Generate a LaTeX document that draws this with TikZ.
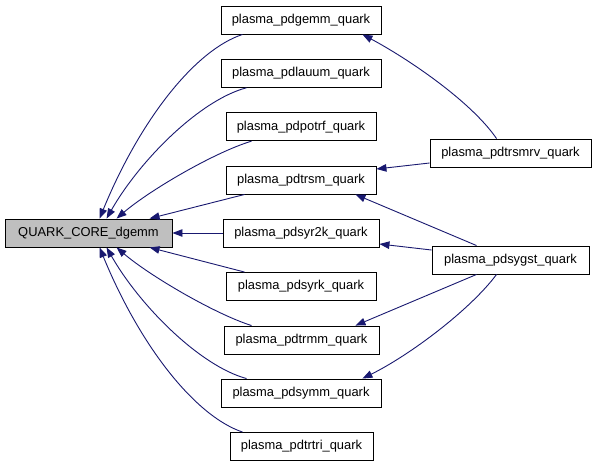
\documentclass[tikz,border=0pt]{standalone}
\usepackage{fontspec}
\setmainfont{Liberation Sans}
\usetikzlibrary{arrows.meta}
\definecolor{edgeblue}{RGB}{25,25,112}
\definecolor{boxgray}{RGB}{191,191,191}
\begin{document}
\begin{tikzpicture}[x=1pt,y=-1pt,
  fn/.style={draw=black,line width=0.9pt,fill=white,inner sep=0pt,minimum height=28pt,
    font=\fontsize{12.9pt}{14pt}\selectfont},
  edge/.style={draw=edgeblue,line width=0.9pt,
    -{Triangle[length=10pt,width=7.5pt,fill=edgeblue]}}]
\useasboundingbox[fill=white] (0,0) rectangle (597,467);
\node[fn,fill=boxgray,minimum width=167pt] (dgemm) at (88.5,233) {QUARK\_CORE\_dgemm};
\node[fn,minimum width=160pt] (pdgemm) at (301,20) {plasma\_pdgemm\_quark};
\node[fn,minimum width=160pt] (pdlauum) at (301,73.3) {plasma\_pdlauum\_quark};
\node[fn,minimum width=150pt] (pdpotrf) at (301,126.7) {plasma\_pdpotrf\_quark};
\node[fn,minimum width=150pt] (pdtrsm) at (301,180) {plasma\_pdtrsm\_quark};
\node[fn,minimum width=156pt] (pdsyr2k) at (301,233) {plasma\_pdsyr2k\_quark};
\node[fn,minimum width=150pt] (pdsyrk) at (301,286.5) {plasma\_pdsyrk\_quark};
\node[fn,minimum width=155pt] (pdtrmm) at (301.5,340) {plasma\_pdtrmm\_quark};
\node[fn,minimum width=160pt] (pdsymm) at (301,393) {plasma\_pdsymm\_quark};
\node[fn,minimum width=143pt] (pdtrtri) at (301.5,446.5) {plasma\_pdtrtri\_quark};
\node[fn,minimum width=161pt] (pdtrsmrv) at (510.5,153) {plasma\_pdtrsmrv\_quark};
\node[fn,minimum width=157pt] (pdsygst) at (510.5,260) {plasma\_pdsygst\_quark};
% edges into QUARK_CORE_dgemm
\draw[edge] ([xshift=22pt]pdgemm.south west) .. controls (195,50) and (140,120) .. ([xshift=95pt]dgemm.north west);
\draw[edge] ([xshift=26pt]pdlauum.south west) .. controls (200,100) and (140,160) .. ([xshift=102pt]dgemm.north west);
\draw[edge] ([xshift=26pt]pdpotrf.south west) .. controls (215,152) and (150,190) .. ([xshift=112pt]dgemm.north west);
\draw[edge] ([xshift=19pt]pdtrsm.south west) -- ([xshift=145pt]dgemm.north west);
\draw[edge] (pdsyr2k.west) -- (dgemm.east);
\draw[edge] ([xshift=19pt]pdsyrk.north west) -- ([xshift=145pt]dgemm.south west);
\draw[edge] ([xshift=28pt]pdtrmm.north west) .. controls (215,314) and (150,276) .. ([xshift=112pt]dgemm.south west);
\draw[edge] ([xshift=26pt]pdsymm.north west) .. controls (200,366) and (140,306) .. ([xshift=102pt]dgemm.south west);
\draw[edge] ([xshift=13pt]pdtrtri.north west) .. controls (195,416) and (140,346) .. ([xshift=95pt]dgemm.south west);
% right-hand edges
\draw[edge] ([xshift=67pt]pdtrsmrv.north west) .. controls (470,100) and (405,57) .. ([xshift=-19pt]pdgemm.south east);
\draw[edge] ([yshift=-10pt]pdtrsmrv.west) -- ([yshift=11pt]pdtrsm.east);
\draw[edge] ([xshift=45pt]pdsygst.north west) -- ([xshift=-21pt]pdtrsm.south east);
\draw[edge] ([yshift=10pt]pdsygst.west) -- ([yshift=-11pt]pdsyr2k.east);
\draw[edge] ([xshift=45pt]pdsygst.south west) -- ([xshift=-24pt]pdtrmm.north east);
\draw[edge] ([xshift=65pt]pdsygst.south west) .. controls (470,310) and (410,355) .. ([xshift=-19pt]pdsymm.north east);
\end{tikzpicture}
\end{document}
